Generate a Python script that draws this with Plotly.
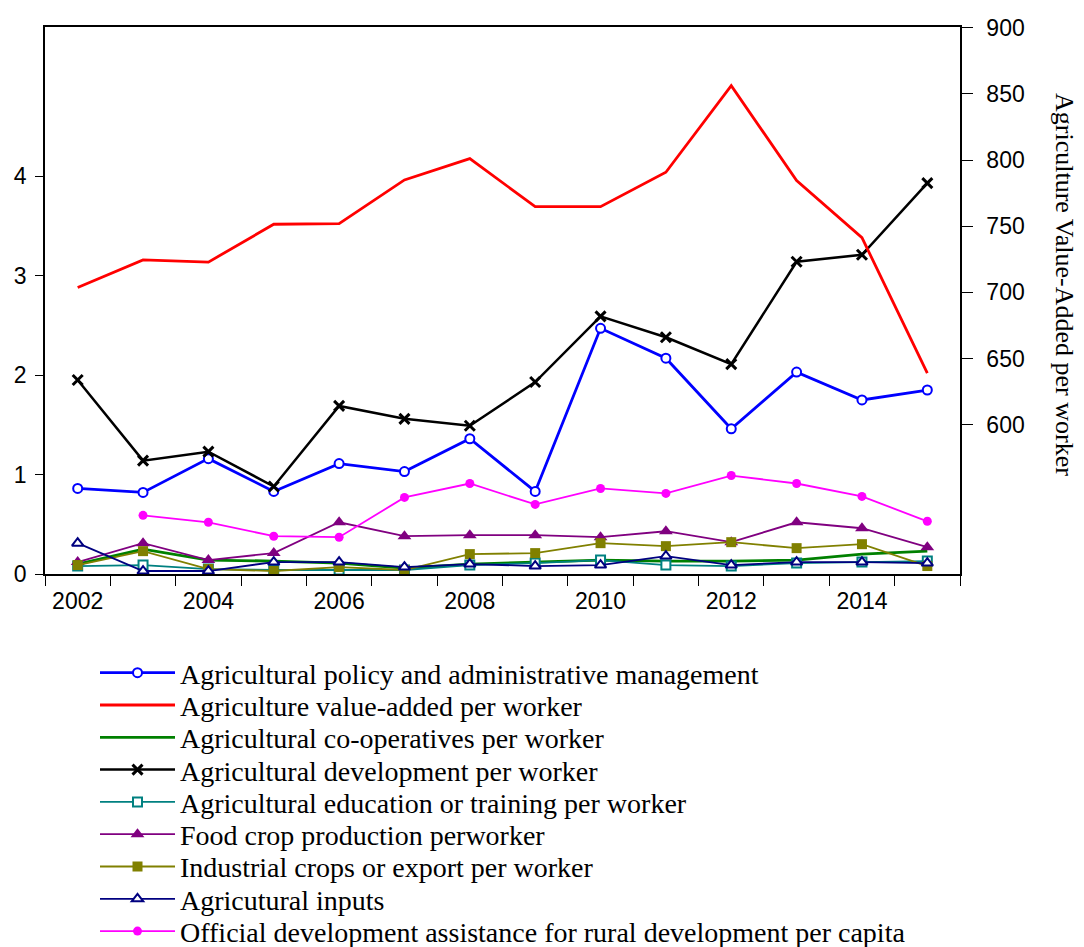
import plotly.graph_objects as go

years = list(range(2002, 2016))

policy_admin = [0.86, 0.82, 1.16, 0.83, 1.11, 1.03, 1.36, 0.83, 2.47, 2.17, 1.46, 2.03, 1.75, 1.85]
value_added = [703.7, 724.6, 722.9, 751.5, 752.0, 785.0, 801.1, 764.8, 764.8, 790.8, 856.2, 784.5, 741.4, 639.0]
cooperatives = [0.10, 0.25, 0.14, 0.13, 0.11, 0.06, 0.10, 0.12, 0.14, 0.13, 0.13, 0.14, 0.20, 0.23]
development = [1.95, 1.14, 1.23, 0.88, 1.69, 1.56, 1.49, 1.93, 2.59, 2.38, 2.11, 3.14, 3.21, 3.93]
education = [0.08, 0.09, 0.05, 0.04, 0.04, 0.04, 0.09, 0.11, 0.14, 0.09, 0.08, 0.11, 0.12, 0.13]
food_crop = [0.12, 0.31, 0.14, 0.21, 0.52, 0.38, 0.39, 0.39, 0.37, 0.43, 0.32, 0.52, 0.46, 0.27]
industrial = [0.09, 0.23, 0.05, 0.03, 0.07, 0.04, 0.20, 0.21, 0.31, 0.28, 0.32, 0.26, 0.30, 0.08]
inputs = [0.31, 0.03, 0.03, 0.12, 0.12, 0.07, 0.10, 0.08, 0.09, 0.18, 0.09, 0.12, 0.12, 0.11]
oda_years = list(range(2003, 2016))
oda = [0.59, 0.52, 0.38, 0.37, 0.77, 0.91, 0.70, 0.86, 0.81, 0.99, 0.91, 0.78, 0.53]

left_ticks = [0, 1, 2, 3, 4]
right_ticks = [600, 650, 700, 750, 800, 850, 900]
x_label_years = [2002, 2004, 2006, 2008, 2010, 2012, 2014]
x_tick_marks = [y + 0.5 for y in range(2001, 2016)]

# Geometry (page pixels). The page body adds an 8px offset around the figure.
OFFSET = 8
WIN_W, WIN_H = 1084, 947
PLOT_LEFT, PLOT_RIGHT, PLOT_TOP, PLOT_BOTTOM = 45, 960, 27, 574
FIG_W, FIG_H = WIN_W - OFFSET, WIN_H - OFFSET
M_L = PLOT_LEFT - OFFSET
M_T = PLOT_TOP - OFFSET
M_R = FIG_W + OFFSET - PLOT_RIGHT
M_B = FIG_H + OFFSET - PLOT_BOTTOM
PLOT_W = PLOT_RIGHT - PLOT_LEFT
PLOT_H = PLOT_BOTTOM - PLOT_TOP
LEG_FIRST_ROW, LEG_ROW_STEP, LEG_LEFT = 673, 32.3, 95


def px_to_paper_x(px):
    return (px - PLOT_LEFT) / PLOT_W


def px_to_paper_y(py):
    return (PLOT_BOTTOM - py) / PLOT_H


legend_font = dict(family="Liberation Serif, Times New Roman, serif", size=28, color="black")

fig = go.Figure()
n_items = [0]


def legend_id():
    n_items[0] += 1
    return "legend" if n_items[0] == 1 else "legend%d" % n_items[0]


def add(name, x, y, color, width=2, symbol=None, fill=None, size=8, yaxis="y", mline=2):
    kw = {}
    if symbol is None:
        mode = "lines"
    else:
        mode = "lines+markers"
        kw["marker"] = dict(symbol=symbol, size=size, color=fill if fill else color,
                            line=dict(color=color, width=mline if fill else 0))
    fig.add_trace(go.Scatter(x=x, y=y, name=name, mode=mode, legend=legend_id(),
                             line=dict(color=color, width=width), yaxis=yaxis, **kw))


add("Agricultural policy and administrative management", years, policy_admin, "#0000FF", 2.8, "circle", "white", 9)
add("Agriculture value-added per worker", years, value_added, "#FF0000", 2.8, yaxis="y2")
add("Agricultural co-operatives per worker", years, cooperatives, "#008000", 2.8)
add("Agricultural development per worker", years, development, "black", 2.5, "x-thin", "black", 10, mline=3)
add("Agricultural education or training per worker", years, education, "#008080", 1.8, "square", "white", 9)
add("Food crop production perworker", years, food_crop, "#800080", 1.8, "triangle-up", None, 12)
add("Industrial crops or export per worker", years, industrial, "#808000", 1.8, "square", None, 10)
add("Agricutural inputs", years, inputs, "#000080", 1.8, "triangle-up", "white", 10)
add("Official development assistance for rural development per capita", oda_years, oda, "#FF00FF", 1.8, "circle", None, 9)

axis_font = dict(family="Liberation Sans, Arial, sans-serif", size=23, color="black")

layout_legends = {}
for i in range(n_items[0]):
    key = "legend" if i == 0 else "legend%d" % (i + 1)
    row_y = LEG_FIRST_ROW + LEG_ROW_STEP * i
    layout_legends[key] = dict(
        x=px_to_paper_x(LEG_LEFT), y=px_to_paper_y(row_y),
        xanchor="left", yanchor="middle", font=legend_font,
        bgcolor="rgba(0,0,0,0)", itemwidth=75, borderwidth=0)

fig.update_layout(
    width=FIG_W, height=FIG_H,
    margin=dict(l=M_L, r=M_R, t=M_T, b=M_B, autoexpand=False),
    paper_bgcolor="white", plot_bgcolor="white",
    showlegend=True,
    xaxis=dict(range=[2001.5, 2015.5], tickmode="array", tickvals=x_label_years,
               ticktext=[str(v) for v in x_label_years], ticks="", showgrid=False,
               showline=True, linecolor="black", linewidth=1.5, mirror=True,
               tickfont=axis_font, zeroline=False, automargin=False, ticklabelstandoff=6,
               minor=dict(tickmode="array", tickvals=x_tick_marks, ticks="outside",
                          ticklen=10, tickcolor="black", tickwidth=1, showgrid=False)),
    yaxis=dict(range=[0, 5.5], tickmode="array", tickvals=left_ticks, ticks="outside",
               ticklen=8, tickcolor="black", showgrid=False, zeroline=False, automargin=False,
               showline=True, linecolor="black", linewidth=1.5, tickfont=axis_font,
               ticklabelstandoff=4),
    yaxis2=dict(range=[487.3, 900.5], tickmode="array", tickvals=right_ticks, ticks="outside",
                ticklen=11, tickcolor="black", showgrid=False, zeroline=False, automargin=False,
                overlaying="y", side="right", showline=True, linecolor="black", linewidth=1.5,
                tickfont=axis_font, ticklabelstandoff=9),
    annotations=[dict(text="Agriculture Value-Added per worker", xref="paper", yref="paper",
                      x=px_to_paper_x(1065), y=px_to_paper_y(284),
                      xanchor="center", yanchor="middle", textangle=90, showarrow=False,
                      font=dict(family="Liberation Serif, Times New Roman, serif", size=26, color="black"))],
    **layout_legends,
)

fig.write_html("out.html")
